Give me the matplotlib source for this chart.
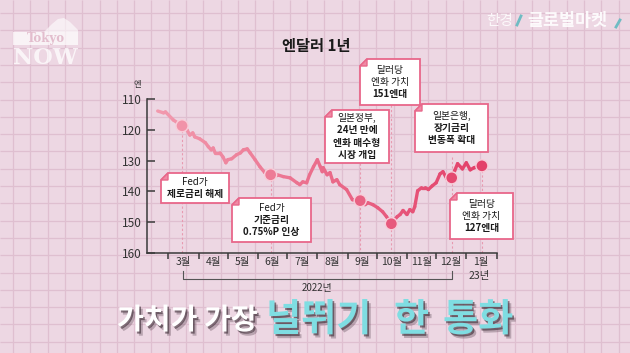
import matplotlib
matplotlib.use("Agg")
import matplotlib.pyplot as plt
import matplotlib.dates as mdates
import matplotlib.patheffects as pe
from matplotlib.collections import LineCollection
from matplotlib.colors import to_rgb
from matplotlib.patches import Polygon, Rectangle
import numpy as np
import pandas as pd

plt.rcParams["font.family"] = ["Noto Sans CJK KR", "DejaVu Sans"]

# USD/JPY over the year (yen per dollar)
dates = ["2022-02-18", "2022-02-24", "2022-02-26", "2022-03-06", "2022-03-15", "2022-03-20",
         "2022-03-23", "2022-03-26", "2022-03-28", "2022-04-02", "2022-04-08", "2022-04-11",
         "2022-04-14", "2022-04-16", "2022-04-18", "2022-04-23", "2022-04-26", "2022-04-29",
         "2022-05-01", "2022-05-05", "2022-05-10", "2022-05-14", "2022-05-17", "2022-05-21",
         "2022-05-24", "2022-05-29", "2022-06-03", "2022-06-08", "2022-06-14", "2022-06-21",
         "2022-06-27", "2022-07-04", "2022-07-11", "2022-07-14", "2022-07-17", "2022-07-21",
         "2022-07-24", "2022-07-28", "2022-08-01", "2022-08-04", "2022-08-06", "2022-08-07",
         "2022-08-11", "2022-08-14", "2022-08-17", "2022-08-21", "2022-08-24", "2022-08-31",
         "2022-09-06", "2022-09-14", "2022-09-19", "2022-09-22", "2022-09-27", "2022-10-02",
         "2022-10-07", "2022-10-11", "2022-10-16", "2022-10-22", "2022-10-25", "2022-10-28",
         "2022-11-01", "2022-11-04", "2022-11-07", "2022-11-09", "2022-11-12", "2022-11-16",
         "2022-11-20", "2022-11-23", "2022-11-27", "2022-12-01", "2022-12-05", "2022-12-08",
         "2022-12-12", "2022-12-17", "2022-12-20", "2022-12-23", "2022-12-28", "2023-01-01",
         "2023-01-05", "2023-01-09", "2023-01-12"]
yen = [113.9, 114.5, 114.2, 116.8, 118.7, 120.0, 121.7, 121.0, 122.3, 122.9, 124.2, 125.5,
       126.5, 125.9, 127.5, 127.5, 128.8, 130.7, 129.7, 129.4, 128.1, 127.5, 126.5, 126.2,
       127.5, 129.7, 132.0, 133.9, 134.6, 134.6, 135.2, 135.6, 137.2, 137.8, 136.9, 137.2,
       134.6, 132.0, 129.7, 132.0, 133.6, 132.3, 134.6, 133.9, 136.9, 136.2, 137.8, 139.4,
       142.7, 143.0, 144.3, 143.7, 144.3, 145.3, 146.6, 148.2, 150.5, 148.2, 147.5, 146.2,
       147.5, 145.9, 146.6, 145.0, 139.8, 138.8, 138.8, 139.4, 138.2, 137.2, 134.3, 133.6,
       135.9, 135.6, 133.3, 131.0, 132.7, 130.7, 133.0, 132.3, 132.0]

event_dates = ["2022-03-15", "2022-06-14", "2022-09-14", "2022-10-16", "2022-12-17", "2023-01-17"]
event_yen = [118.7, 134.6, 143.0, 150.5, 135.6, 131.7]
event_notes = [
    [("Fed가", False), ("제로금리 해제", True)],
    [("Fed가", False), ("기준금리", True), ("0.75%P 인상", True)],
    [("일본정부,", False), ("24년 만에", True), ("엔화 매수형", True), ("시장 개입", True)],
    [("달러당", False), ("엔화 가치", False), ("151엔대", True)],
    [("일본은행,", False), ("장기금리", True), ("변동폭 확대", True)],
    [("달러당", False), ("엔화 가치", False), ("127엔대", True)],
]
# boxes in pixels: left, top, right, bottom; tops of connector lines in yen
note_boxes = [(161, 173, 229, 203), (232, 198, 311, 242), (325, 110, 389, 163),
              (360, 59, 420, 105), (415, 104, 488, 152), (450, 193, 513, 239)]
line_tops = [118.7, 134.6, 130.7, 112.0, 128.8, 131.7]

yticks = [110, 120, 130, 140, 150, 160]
month_dates = ["2022-03-16", "2022-04-16", "2022-05-16", "2022-06-16", "2022-07-16",
               "2022-08-16", "2022-09-16", "2022-10-16", "2022-11-16", "2022-12-16", "2023-01-16"]
month_labels = ["3월", "4월", "5월", "6월", "7월", "8월", "9월", "10월", "11월", "12월", "1월"]

W, H = 630, 353
PINK = "#e8678a"

fig = plt.figure(figsize=(6.3, 3.53), dpi=100)
fig.patch.set_facecolor("#edd7e3")

# background grid paper
bg = fig.add_axes([0, 0, 1, 1], zorder=0)
bg.set_xlim(0, W)
bg.set_ylim(H, 0)
bg.axis("off")
bg.vlines(np.arange(13, W, 17.3), 0, H, color="#dfbfd0", lw=0.9)
bg.hlines(np.arange(13, H, 17.3), 0, W, color="#dfbfd0", lw=0.9)

# chart
ax = fig.add_axes([147 / W, 1 - 253 / H, (496.5 - 147) / W, 154 / H], zorder=2)
ax.patch.set_alpha(0)

x = mdates.date2num(pd.to_datetime(dates))
y = np.array(yen)
pts = np.column_stack([x, y]).reshape(-1, 1, 2)
segs = np.concatenate([pts[:-1], pts[1:]], axis=1)
c0, c1 = np.array(to_rgb("#f29aae")), np.array(to_rgb("#e3416a"))
frac = (x - x.min()) / (x.max() - x.min())
seg_cols = [c0 + (c1 - c0) * f for f in (frac[:-1] + frac[1:]) / 2]
ax.add_collection(LineCollection(segs, colors=seg_cols, lw=2.4, capstyle="round", joinstyle="round", zorder=3))

ex = mdates.date2num(pd.to_datetime(event_dates))
ef = np.clip((ex - x.min()) / (x.max() - x.min()), 0, 1)
ax.vlines(ex, line_tops, 160, color="#e89ab0", lw=0.8, linestyle=(0, (2, 2)), zorder=1)
ax.scatter(ex, event_yen, s=75, c=[c0 + (c1 - c0) * f for f in ef],
           edgecolors="#f8cdd9", linewidths=1.0, zorder=4)

ax.set_xlim(pd.Timestamp("2022-02-07"), pd.Timestamp("2023-02-01"))
ax.set_ylim(160, 110)
ax.set_yticks(yticks)
ax.set_xticks(pd.date_range("2022-03-01", "2023-02-01", freq="MS"))
ax.set_xticklabels([])
ax.set_xticks(pd.to_datetime(month_dates), month_labels, minor=True)
ax.tick_params(axis="y", direction="in", length=6, width=1.1, color="#3a3a3a",
               labelsize=8.5, labelcolor="#333333", pad=4)
ax.tick_params(axis="x", which="major", direction="out", length=4, width=1.1, color="#3a3a3a")
ax.tick_params(axis="x", which="minor", length=0, labelsize=7.5, labelcolor="#333333", pad=3)
for s in ["top", "right"]:
    ax.spines[s].set_visible(False)
for s in ["left", "bottom"]:
    ax.spines[s].set_color("#3a3a3a")
    ax.spines[s].set_linewidth(1.1)

# overlay in pixel coordinates
fg = fig.add_axes([0, 0, 1, 1], zorder=5)
fg.set_xlim(0, W)
fg.set_ylim(H, 0)
fg.axis("off")

for (l, t, r, b), lines in zip(note_boxes, event_notes):
    c = 7
    fg.add_patch(Polygon([(l + c, t), (r, t), (r, b), (l, b), (l, t + c)], closed=True,
                         facecolor="white", edgecolor=PINK, lw=1.3))
    fg.add_patch(Polygon([(l + c, t), (l, t + c), (l + c, t + c)], closed=True,
                         facecolor="#f08aa5", edgecolor=PINK, lw=1.0))
    n = len(lines)
    mid = (t + b) / 2
    for i, (txt, bold) in enumerate(lines):
        fg.text((l + r) / 2, mid + (i - (n - 1) / 2) * 12.5, txt, ha="center", va="center",
                fontsize=7, color="#1a1a1a", weight="bold" if bold else "normal")

fg.text(316, 46, "엔달러 1년", ha="center", va="center", fontsize=11, weight="bold", color="#1a1a1a")
fg.text(137, 84, "엔", ha="center", va="center", fontsize=6, color="#333333")
fg.text(479, 276, "23년", ha="center", va="center", fontsize=7.5, color="#333333")

# 2022 bracket
fg.plot([183, 183, 452, 452], [271, 279, 279, 271], color="#555555", lw=0.8)
fg.text(317, 288, "2022년", ha="center", va="center", fontsize=7, color="#333333")

# headline
shadow = [pe.SimplePatchShadow(offset=(2.5, -3), shadow_rgbFace="#5a4652", alpha=0.35),
          pe.SimplePatchShadow(offset=(1.2, -1.5), shadow_rgbFace="#3a2a33", alpha=0.6),
          pe.Normal()]
fg.text(117, 329, "가치가 가장", ha="left", va="baseline", fontsize=21, weight="bold",
        color="white", path_effects=shadow)
for word, wx in zip(["널뛰기", "한", "통화"], [266, 394, 443]):
    fg.text(wx, 331, word, ha="left", va="baseline", fontsize=27.5, weight="bold",
            color="#7fdde2", path_effects=shadow)

# Tokyo NOW logo
fg.add_patch(Polygon([(44, 32), (52, 24), (58, 19), (64, 18), (70, 22), (78, 30), (78, 32)],
                     closed=True, facecolor="white", alpha=0.6, lw=0))
fg.add_patch(Rectangle((13, 32), 65, 13, facecolor="white", alpha=0.7, lw=0))
fg.text(45.5, 38.5, "Tokyo", ha="center", va="center", fontsize=8.5, family="DejaVu Serif",
        weight="bold", color="#e3bdcd")
fg.text(45.5, 58, "NOW", ha="center", va="center", fontsize=16, family="DejaVu Serif",
        weight="bold", color="white", alpha=0.75)

# watermark
fg.text(500, 21, "한경", ha="center", va="center", fontsize=10.5, color="white", alpha=0.85)
fg.plot([517, 521], [25, 16], color="#6fbcc3", lw=2)
fg.text(527, 21, "글로벌마켓", ha="left", va="center", fontsize=12.5, weight="bold", color="white", alpha=0.9)
fg.plot([616, 620], [27, 20], color="#6fbcc3", lw=2)

fig.savefig("out.png", dpi=100, facecolor=fig.get_facecolor())
